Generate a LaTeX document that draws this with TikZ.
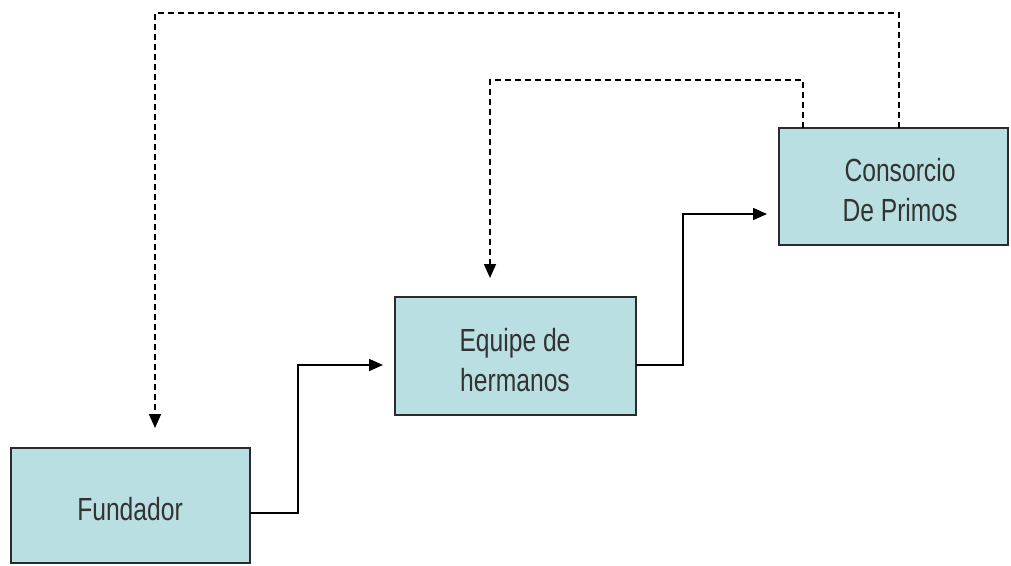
\documentclass[tikz,border=0pt]{standalone}
\usepackage{fontspec}
\setmainfont{Liberation Sans}
\usetikzlibrary{arrows.meta}
\definecolor{boxfill}{RGB}{185,223,226}
\definecolor{edge}{RGB}{40,44,44}
\newcommand{\narrow}[1]{\scalebox{0.77}[1]{#1}}
\begin{document}
\begin{tikzpicture}[x=1pt,y=-1pt,
  stagebox/.style={draw=edge,line width=1.6pt,fill=boxfill,inner sep=0pt},
  label/.style={align=center,font=\fontsize{32}{40}\selectfont,text=black!80},
  flow/.style={line width=1.6pt,-{Triangle[length=14pt,width=12pt]},shorten >=12pt},
  feedback/.style={line width=1.6pt,dash pattern=on 6pt off 4pt,-{Triangle[length=14pt,width=12pt]}}]
\useasboundingbox (0,0) rectangle (1011,565);
% three stages
\draw[stagebox] (11,448) rectangle (250,563);
\draw[stagebox] (395,297) rectangle (636,415);
\draw[stagebox] (779,128) rectangle (1008,245);
\node[label] (fund) at (130,509) {\narrow{Fundador}};
\node[label] (equi) at (515,360) {\narrow{Equipe de}\\\narrow{hermanos}};
\node[label] (cons) at (900,190) {\narrow{Consorcio}\\\narrow{De Primos}};
\coordinate (fR) at (250,513);
\coordinate (eL) at (395,365);
\coordinate (eR) at (636,365);
\coordinate (cL) at (779,214);
\coordinate (fT) at (155,428);
\coordinate (eT) at (490,278);
\coordinate (cT1) at (899,128);
\coordinate (cT2) at (803,128);
% forward steps
\draw[flow] (fR) -- (298,513) |- (eL);
\draw[flow] (eR) -- (683,365) |- (cL);
% dashed feedback loops
\draw[feedback] (cT1) -- (899,13) -| (fT);
\draw[feedback] (cT2) -- (803,80) -| (eT);
\end{tikzpicture}
\end{document}
